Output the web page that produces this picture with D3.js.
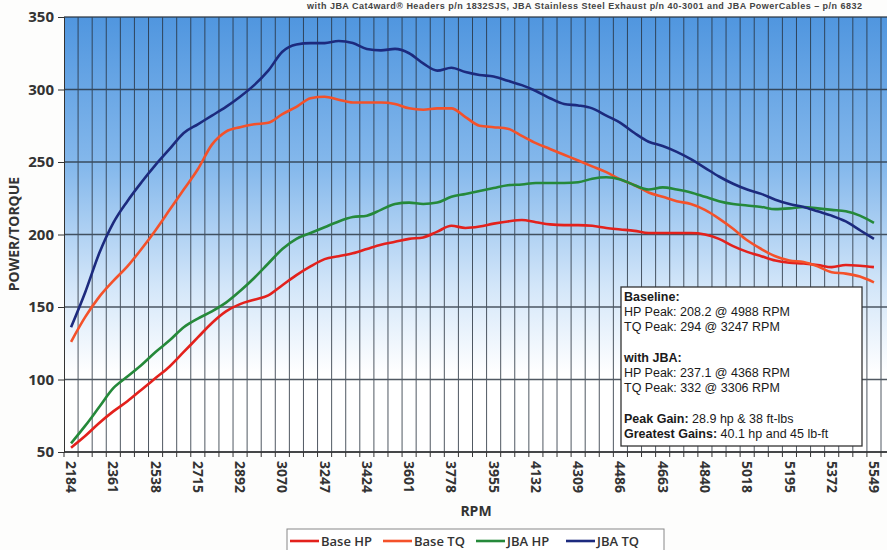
<!DOCTYPE html>
<html>
<head>
<meta charset="utf-8">
<script src="https://cdn.jsdelivr.net/npm/d3@7"></script>
<style>
  body { margin: 0; background: #fdfdfc; }
  svg { display: block; }
  text { font-family: "Open Sans", "Liberation Sans", sans-serif; fill: #333; }
</style>
</head>
<body>
<svg id="chart" width="887" height="550"></svg>
<script>
////////////////////////////////////////////////////////////////
// Data

// RPM categories, one every ~59 rpm
var rpm = [2184, 2243, 2302, 2361, 2420, 2479, 2538, 2597, 2656, 2715,
    2774, 2833, 2892, 2951, 3011, 3070, 3129, 3188, 3247, 3306,
    3365, 3424, 3483, 3542, 3601, 3660, 3719, 3778, 3837, 3896,
    3955, 4014, 4073, 4132, 4191, 4250, 4309, 4368, 4427, 4486,
    4545, 4604, 4663, 4722, 4781, 4840, 4900, 4959, 5018, 5077,
    5136, 5195, 5254, 5313, 5372, 5431, 5490, 5549];

// labelled rpm values on the x axis
var rpmLabels = [2184, 2361, 2538, 2715, 2892, 3070, 3247, 3424, 3601, 3778,
    3955, 4132, 4309, 4486, 4663, 4840, 5018, 5195, 5372, 5549];

var yTicks = [50, 100, 150, 200, 250, 300, 350];

var baseHP = [53, 61, 70, 78, 85, 93, 101, 109, 119, 129,
    139, 147, 152, 155, 158, 165, 172, 178, 183, 185,
    187, 190, 193, 195, 197, 198, 202, 206, 204.5, 205.5,
    207.5, 209, 210, 208.5, 207, 206.5, 206.5, 206, 204.5, 203.5,
    202.5, 201, 201, 201, 201, 200, 197, 192, 188, 185,
    182, 180.5, 180, 179, 177.5, 179, 178.5, 177.5];

var baseTQ = [126, 143, 157, 168, 178, 190, 203, 217, 231, 245,
    262, 271, 274, 276, 277, 283, 288, 294, 295, 293,
    291, 291, 291, 290, 287, 286, 287, 287, 281, 275,
    274, 273, 268, 263, 259, 255, 251, 247, 243, 238,
    234, 229, 226, 223, 221, 217, 211, 204, 196, 190,
    185, 182, 181, 178, 174, 173, 171, 167];

var jbaHP = [56, 68, 81, 94, 102, 110, 119, 127, 136, 142,
    147, 153, 161, 170, 180, 190, 197, 201, 205, 209,
    212, 213, 217, 221, 222, 221, 222, 226, 228, 230,
    232, 234, 234.5, 235.5, 235.5, 235.5, 236, 238.5, 239.5, 238,
    234, 231, 232.5, 231, 229, 226, 223, 221, 220, 219,
    217.5, 218, 219, 218, 217, 216, 213, 208];

var jbaTQ = [136, 160, 187, 208, 223, 236, 248, 259, 270, 276,
    282, 288, 295, 303, 313, 326, 331, 332, 332, 333.5,
    332, 328, 327, 328, 325, 318, 313, 315, 312, 310,
    309, 306, 303, 299, 294, 290, 289, 287, 282, 277,
    270, 264, 261, 257, 252, 246, 240, 235, 231, 228,
    224, 221, 219, 216, 213, 209, 203, 197];

var seriesNames = ["Base HP", "Base TQ", "JBA HP", "JBA TQ"];
var seriesColors = ["#e3211c", "#f4512a", "#25893a", "#1c2a7e"];
var seriesValues = [baseHP, baseTQ, jbaHP, jbaTQ];

////////////////////////////////////////////////////////////////
// Basic parameters

var svg = d3.select("#chart");
var plot = { left: 64, right: 881, top: 17, bottom: 452, edge: 887 };

var x = d3.scaleBand().domain(rpm).range([plot.left, plot.right]).padding(0);
var y = d3.scaleLinear().domain([50, 350]).range([plot.bottom, plot.top]);

// background gradient
var grad = svg.append("defs").append("linearGradient")
    .attr("id", "bg").attr("x1", 0).attr("y1", 0).attr("x2", 0).attr("y2", 1);
grad.append("stop").attr("offset", "0%").attr("stop-color", "#5096df");
grad.append("stop").attr("offset", "35%").attr("stop-color", "#86b9ec");
grad.append("stop").attr("offset", "62%").attr("stop-color", "#d3e6f9");
grad.append("stop").attr("offset", "82%").attr("stop-color", "#ffffff");
grad.append("stop").attr("offset", "100%").attr("stop-color", "#ffffff");

svg.append("rect")
    .attr("x", plot.left).attr("y", plot.top)
    .attr("width", plot.edge - plot.left).attr("height", plot.bottom - plot.top)
    .attr("fill", "url(#bg)");

// subtitle (cropped at top of the scan)
svg.append("text")
    .attr("x", 307).attr("y", 9)
    .attr("textLength", 555)
    .style("font-family", "Liberation Sans, Arial, sans-serif")
    .style("font-weight", "bold").style("font-size", "9px").style("fill", "#444")
    .text("with JBA Cat4ward\u00AE Headers p/n 1832SJS, JBA Stainless Steel Exhaust p/n 40-3001 and JBA PowerCables \u2013 p/n 6832");

////////////////////////////////////////////////////////////////
// Gridlines

var grid = svg.append("g").attr("stroke", "#26303c").attr("stroke-width", 1).attr("opacity", 0.8);

// vertical lines between categories
var bounds = rpm.slice(1).map(d => x(d)).concat([plot.right]);
grid.selectAll(".vg").data(bounds).enter().append("line")
    .attr("x1", d => d).attr("x2", d => d)
    .attr("y1", plot.top).attr("y2", plot.bottom);

grid.selectAll(".hg").data(yTicks).enter().append("line")
    .attr("x1", plot.left).attr("x2", plot.edge)
    .attr("y1", d => y(d)).attr("y2", d => y(d))
    .attr("stroke-width", 1.3);

////////////////////////////////////////////////////////////////
// Axes

var leftAxis = d3.axisLeft(y).tickValues(yTicks).tickSize(6).tickPadding(4);
var yAxis = svg.append("g").attr("transform", `translate(${plot.left}, 0)`).call(leftAxis);
yAxis.selectAll("text").style("font-size", "15px").style("font-weight", "bold").style("fill", "#333");
yAxis.selectAll("line, path").attr("stroke", "#333");

// x axis line and tick marks at category boundaries
var xAxisG = svg.append("g");
xAxisG.append("line")
    .attr("x1", plot.left).attr("x2", plot.edge)
    .attr("y1", plot.bottom).attr("y2", plot.bottom)
    .attr("stroke", "#333").attr("stroke-width", 1.3);
xAxisG.selectAll(".xt").data([plot.left].concat(bounds)).enter().append("line")
    .attr("x1", d => d).attr("x2", d => d)
    .attr("y1", plot.bottom).attr("y2", plot.bottom + 5)
    .attr("stroke", "#333");

xAxisG.selectAll(".xl").data(rpmLabels).enter().append("text")
    .attr("transform", d => `translate(${x(d) + x.bandwidth() / 2}, ${plot.bottom + 9}) rotate(90)`)
    .attr("dy", "0.35em")
    .style("font-size", "14px").style("font-weight", "bold")
    .text(d => d);

// axis titles
svg.append("text")
    .attr("x", 476).attr("y", 516)
    .attr("text-anchor", "middle")
    .style("font-size", "14px").style("font-weight", "bold")
    .text("RPM");

svg.append("text")
    .attr("transform", "translate(19, 234) rotate(-90)")
    .attr("text-anchor", "middle")
    .style("font-size", "14px").style("font-weight", "bold")
    .text("POWER/TORQUE");

////////////////////////////////////////////////////////////////
// Lines

var line = d3.line()
    .x((d, i) => x(rpm[i]) + x.bandwidth() / 2)
    .y(d => y(d))
    .curve(d3.curveMonotoneX);

seriesValues.forEach(function (vals, k) {
    svg.append("path")
        .datum(vals)
        .attr("fill", "none")
        .attr("stroke", seriesColors[k])
        .attr("stroke-width", 2.6)
        .attr("stroke-linejoin", "round")
        .attr("d", line);
});

////////////////////////////////////////////////////////////////
// Annotation box

var note = svg.append("g");
note.append("rect")
    .attr("x", 621).attr("y", 287).attr("width", 241).attr("height", 159)
    .attr("fill", "#fff").attr("stroke", "#333").attr("stroke-width", 1.3);

var noteLines = [
    { y: 301, b: "Baseline:", t: "" },
    { y: 316, b: "", t: "HP Peak: 208.2 @ 4988 RPM" },
    { y: 331, b: "", t: "TQ Peak: 294 @ 3247 RPM" },
    { y: 362, b: "with JBA:", t: "" },
    { y: 377, b: "", t: "HP Peak: 237.1 @ 4368 RPM" },
    { y: 392, b: "", t: "TQ Peak: 332 @ 3306 RPM" },
    { y: 423, b: "Peak Gain:", t: " 28.9 hp & 38 ft-lbs" },
    { y: 438, b: "Greatest Gains:", t: " 40.1 hp and 45 lb-ft" }
];
noteLines.forEach(function (l) {
    var t = note.append("text")
        .attr("x", 624).attr("y", l.y)
        .style("font-family", "Liberation Sans, Arial, sans-serif")
        .style("font-size", "12.5px").style("fill", "#1a1a1a");
    if (l.b) t.append("tspan").style("font-weight", "bold").text(l.b);
    if (l.t) t.append("tspan").text(l.t);
});

////////////////////////////////////////////////////////////////
// Legend

var legend = svg.append("g");
legend.append("rect")
    .attr("x", 287).attr("y", 529).attr("width", 377).attr("height", 30)
    .attr("fill", "#fff").attr("stroke", "#888");

var legX = [290, 383, 476, 566];
seriesNames.forEach(function (name, k) {
    legend.append("line")
        .attr("x1", legX[k]).attr("x2", legX[k] + 29)
        .attr("y1", 541).attr("y2", 541)
        .attr("stroke", seriesColors[k]).attr("stroke-width", 2.6);
    legend.append("text")
        .attr("x", legX[k] + 31).attr("y", 546)
        .style("font-size", "13px").style("font-weight", "600")
        .text(name);
});
</script>
</body>
</html>
